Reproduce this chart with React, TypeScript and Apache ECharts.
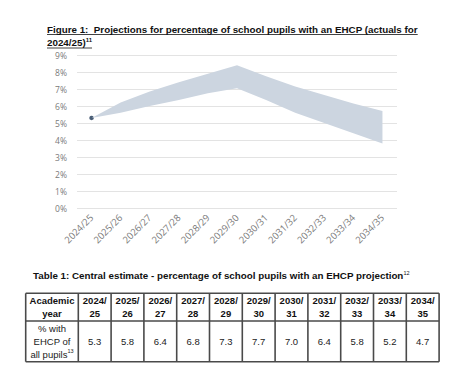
import React, { useEffect, useRef } from "react";
import * as echarts from "echarts";

const categories = [
  "2024/25", "2025/26", "2026/27", "2027/28", "2028/29", "2029/30",
  "2030/31", "2031/32", "2032/33", "2033/34", "2034/35",
];
const upperBound = [5.3, 6.2, 6.85, 7.4, 7.9, 8.4, 7.75, 7.15, 6.65, 6.15, 5.7];
const lowerBound = [5.3, 5.6, 6.0, 6.35, 6.75, 7.05, 6.35, 5.6, 5.0, 4.4, 3.8];
const actuals = [5.3, null, null, null, null, null, null, null, null, null, null];
const tableValues = ["5.3", "5.8", "6.4", "6.8", "7.3", "7.7", "7.0", "6.4", "5.8", "5.2", "4.7"];

const figureTitle1 = "Figure 1:  Projections for percentage of school pupils with an EHCP (actuals for";
const figureTitle2 = "2024/25)";
const figureNote = "11";
const tableTitle = "Table 1: Central estimate - percentage of school pupils with an EHCP projection";
const tableNote = "12";
const rowLabelLines = ["% with", "EHCP of", "all pupils"];
const rowNote = "13";
const headerLabel = ["Academic", "year"];

const FONT = "'Liberation Sans', Arial, sans-serif";
const AXFONT = "'Open Sans', 'Noto Sans', sans-serif";

function measure(text: string, font: string): number {
  const c = document.createElement("canvas").getContext("2d");
  if (!c) return text.length * 5;
  c.font = font;
  return c.measureText(text).width;
}

export default function App() {
  const ref = useRef<HTMLDivElement>(null);
  useEffect(() => {
    document.body.style.margin = "0";
    if (!ref.current) return;
    const chart = echarts.init(ref.current, undefined, { renderer: "svg" });
    const diff = upperBound.map((u, i) => +(u - lowerBound[i]).toFixed(3));

    const titleSize = 9.8;
    const titleX = 47;
    const w1 = measure(figureTitle1, `bold ${titleSize}px ${FONT}`);
    const w2 = measure(figureTitle2, `bold ${titleSize}px ${FONT}`) + measure(figureNote, `bold 6px ${FONT}`);

    // table geometry
    const tLeft = 25.7;
    const firstW = 52.6;
    const colW = 32.8;
    const tTop = 293.3;
    const tMid = 321;
    const tBot = 361.7;
    const tRight = tLeft + firstW + colW * categories.length;
    const border = { stroke: "#4a4a4a", lineWidth: 1.6 };

    const graphics: any[] = [];
    graphics.push({
      type: "text", x: titleX, y: 24,
      style: { text: figureTitle1, font: `bold ${titleSize}px ${FONT}`, fill: "#111", verticalAlign: "top" },
    });
    graphics.push({
      type: "line", shape: { x1: titleX, y1: 34.5, x2: titleX + w1, y2: 34.5 },
      style: { stroke: "#111", lineWidth: 0.8 },
    });
    graphics.push({
      type: "text", x: titleX, y: 37,
      style: {
        text: `{b|${figureTitle2}}{s|${figureNote}}`,
        rich: {
          b: { font: `bold ${titleSize}px ${FONT}`, fill: "#111", lineHeight: 11 },
          s: { font: `bold 6px ${FONT}`, fill: "#111", verticalAlign: "top", lineHeight: 11 },
        },
        verticalAlign: "top",
      },
    });
    graphics.push({
      type: "line", shape: { x1: titleX, y1: 48, x2: titleX + w2, y2: 48 },
      style: { stroke: "#111", lineWidth: 0.8 },
    });
    graphics.push({
      type: "text", x: 33, y: 270,
      style: {
        text: `{b|${tableTitle}}{s|${tableNote}}`,
        rich: {
          b: { font: `bold ${titleSize}px ${FONT}`, fill: "#111", lineHeight: 11 },
          s: { font: `5.5px ${FONT}`, fill: "#111", verticalAlign: "top", lineHeight: 11 },
        },
        verticalAlign: "top",
      },
    });

    // table borders
    [tTop, tMid, tBot].forEach((y) =>
      graphics.push({ type: "line", shape: { x1: tLeft, y1: y, x2: tRight, y2: y }, style: border })
    );
    const xs = [tLeft, tLeft + firstW];
    categories.forEach((_, i) => xs.push(tLeft + firstW + colW * (i + 1)));
    xs.forEach((x) =>
      graphics.push({ type: "line", shape: { x1: x, y1: tTop, x2: x, y2: tBot }, style: border })
    );

    const hdrFont = `bold 9.5px ${FONT}`;
    const hy = (tTop + tMid) / 2;
    const dy = (tMid + tBot) / 2;
    graphics.push({
      type: "text", x: tLeft + firstW / 2, y: hy,
      style: {
        text: headerLabel.join("\n"), font: hdrFont, fill: "#111",
        align: "center", verticalAlign: "middle", lineHeight: 13,
      },
    });
    graphics.push({
      type: "text", x: tLeft + firstW / 2, y: dy,
      style: {
        text: rowLabelLines.map((l, i) => (i === rowLabelLines.length - 1 ? `{n|${l}}{s|${rowNote}}` : `{n|${l}}`)).join("\n"),
        rich: {
          n: { font: `9.5px ${FONT}`, fill: "#222", lineHeight: 13.3 },
          s: { font: `5.5px ${FONT}`, fill: "#222", verticalAlign: "top", lineHeight: 13.3 },
        },
        align: "center", verticalAlign: "middle",
      },
    });
    categories.forEach((c, i) => {
      const cx = tLeft + firstW + colW * i + colW / 2;
      const parts = c.split("/");
      graphics.push({
        type: "text", x: cx, y: hy,
        style: {
          text: `${parts[0]}/\n${parts[1]}`, font: hdrFont, fill: "#111",
          align: "center", verticalAlign: "middle", lineHeight: 13,
        },
      });
      graphics.push({
        type: "text", x: cx, y: dy,
        style: {
          text: tableValues[i], font: `9.5px ${FONT}`, fill: "#222",
          align: "center", verticalAlign: "middle",
        },
      });
    });

    chart.setOption({
      animation: false,
      grid: { left: 77, right: 68, top: 55, bottom: 162 },
      xAxis: {
        type: "category",
        data: categories,
        boundaryGap: true,
        axisLine: { show: false },
        axisTick: { show: false },
        axisLabel: {
          rotate: 45, color: "#7a7a7a", fontSize: 9.5, fontFamily: AXFONT, margin: 8, interval: 0,
        },
      },
      yAxis: {
        type: "value",
        min: 0, max: 9, interval: 1,
        axisLine: { show: false },
        axisTick: { show: false },
        splitLine: { lineStyle: { color: "#e3e3e3", width: 1 } },
        axisLabel: {
          formatter: "{value}%", color: "#7a7a7a", fontSize: 8.5, fontFamily: AXFONT, margin: 10,
        },
      },
      series: [
        {
          type: "line", name: "lower", stack: "band", data: lowerBound,
          symbol: "none", lineStyle: { opacity: 0 }, silent: true,
        },
        {
          type: "line", name: "range", stack: "band", data: diff,
          symbol: "none", lineStyle: { opacity: 0 },
          areaStyle: { color: "#ccd5e0", opacity: 1 }, silent: true,
        },
        {
          type: "scatter", name: "actual", data: actuals,
          symbolSize: 4.5, itemStyle: { color: "#1b3552" },
        },
      ],
      graphic: graphics,
    });
    return () => chart.dispose();
  }, []);
  return <div ref={ref} style={{ width: 465, height: 370 }} />;
}
